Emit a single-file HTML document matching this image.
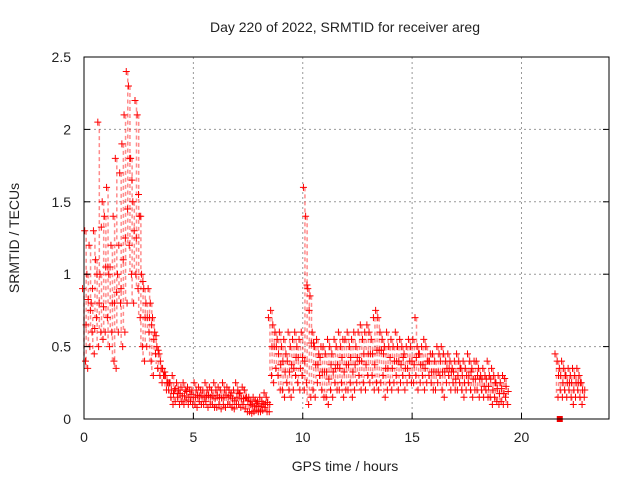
<!DOCTYPE html>
<html><head><meta charset="utf-8"><style>
body{margin:0;background:#fff}
svg{display:block;font-family:"Liberation Sans",sans-serif}
</style></head><body>
<svg id="chart" width="640" height="480" viewBox="0 0 640 480">
<rect width="640" height="480" fill="#fff"/>
<text x="345" y="32" font-size="14" text-anchor="middle" fill="#222">Day 220 of 2022, SRMTID for receiver areg</text>
<text x="345" y="471" font-size="14" text-anchor="middle" fill="#222">GPS time / hours</text>
<text x="0" y="0" transform="translate(19,238) rotate(-90)" font-size="14" text-anchor="middle" fill="#222">SRMTID / TECUs</text>
<g id="grid"></g><g id="marks"></g><g id="axes"></g>
</svg>
<script>
const xTicks=[0,5,10,15,20];
const yTicks=[0,0.5,1,1.5,2,2.5];
const yTickLabels=["0","0.5","1","1.5","2","2.5"];
const mainStart=0, step=0.1;
const valsHigh=[0.9,1.3,1.0,1.2,0.8,1.3,1.1,2.05,1.0,1.5,
1.4,1.6,1.0,1.2,1.4,1.8,1.0,1.7,1.9,2.1,
2.4,2.3,1.8,1.5,2.2,2.1,1.4,1.0,0.9,0.8,
0.9,0.8,0.7,0.6,0.5,0.45,0.35,0.3,0.3,0.25,
0.25,0.3,0.2,0.25,0.2,0.22,0.25,0.2,0.22,0.2,
0.2,0.25,0.2,0.22,0.2,0.2,0.25,0.2,0.22,0.2,
0.25,0.2,0.22,0.2,0.25,0.2,0.22,0.2,0.18,0.2,
0.25,0.2,0.18,0.22,0.2,0.15,0.15,0.12,0.15,0.13,
0.12,0.15,0.12,0.18,0.15,0.7,0.75,0.65,0.6,0.55,
0.6,0.5,0.55,0.45,0.6,0.5,0.55,0.6,0.5,0.55,
0.6,1.6,1.4,0.9,0.85,0.6,0.5,0.55,0.45,0.5,
0.5,0.45,0.55,0.5,0.45,0.55,0.5,0.6,0.5,0.55,
0.55,0.6,0.5,0.55,0.6,0.5,0.6,0.65,0.55,0.6,
0.65,0.6,0.55,0.7,0.75,0.7,0.6,0.55,0.5,0.6,
0.5,0.55,0.5,0.6,0.5,0.55,0.5,0.45,0.5,0.55,
0.5,0.55,0.7,0.5,0.45,0.5,0.55,0.5,0.4,0.45,
0.45,0.4,0.5,0.45,0.5,0.45,0.4,0.45,0.4,0.35,
0.4,0.45,0.4,0.35,0.4,0.35,0.45,0.4,0.35,0.4,
0.4,0.35,0.3,0.35,0.3,0.4,0.3,0.35,0.3,0.25,
0.3,0.25,0.3,0.28];
const valsLow=[0.4,0.35,0.5,0.6,0.45,0.7,0.5,0.6,0.55,0.6,
0.7,0.5,0.6,0.4,0.35,0.6,0.8,0.5,0.6,0.8,
1.2,1.0,0.8,1.0,0.9,0.7,0.5,0.4,0.5,0.6,
0.4,0.3,0.45,0.35,0.3,0.25,0.3,0.2,0.2,0.15,
0.1,0.12,0.15,0.1,0.12,0.1,0.13,0.1,0.12,0.1,
0.1,0.08,0.12,0.1,0.1,0.12,0.08,0.1,0.1,0.08,
0.08,0.1,0.07,0.1,0.08,0.1,0.1,0.08,0.07,0.1,
0.1,0.08,0.1,0.07,0.05,0.05,0.04,0.05,0.06,0.05,
0.05,0.06,0.08,0.05,0.05,0.3,0.25,0.35,0.3,0.2,
0.2,0.15,0.25,0.2,0.15,0.2,0.3,0.25,0.2,0.3,
0.2,0.25,0.1,0.15,0.2,0.15,0.25,0.3,0.2,0.15,
0.15,0.1,0.2,0.15,0.25,0.2,0.2,0.25,0.15,0.2,
0.2,0.25,0.15,0.2,0.25,0.3,0.2,0.25,0.2,0.3,
0.25,0.3,0.2,0.25,0.2,0.25,0.3,0.15,0.2,0.25,
0.2,0.25,0.3,0.2,0.25,0.3,0.2,0.25,0.3,0.25,
0.25,0.3,0.2,0.25,0.3,0.2,0.25,0.3,0.25,0.2,
0.2,0.25,0.3,0.2,0.15,0.25,0.3,0.2,0.25,0.2,
0.2,0.25,0.2,0.15,0.2,0.25,0.2,0.15,0.2,0.2,
0.15,0.2,0.15,0.2,0.15,0.15,0.1,0.15,0.12,0.1,
0.12,0.1,0.15,0.1];
const lateStart=21.6;
const lateHigh=[0.45,0.4,0.35,0.4,0.35,0.3,0.35,0.3,0.35,0.3,0.35,0.3,0.25];
const lateLow=[0.15,0.2,0.15,0.2,0.15,0.2,0.15,0.1,0.15,0.2,0.15,0.1,0.15];
const squareX=[21.75], squareY=[0];

const L=84,R=609,T=57,B=419,XMAX=24,YMAX=2.5;
const X=v=>L+v/XMAX*(R-L);
const Y=v=>B-v/YMAX*(B-T);
const NS="http://www.w3.org/2000/svg";
function mk(tag,attrs,parent){const e=document.createElementNS(NS,tag);for(const k in attrs)e.setAttribute(k,attrs[k]);parent.appendChild(e);return e;}
const grid=document.getElementById('grid'),marks=document.getElementById('marks'),axes=document.getElementById('axes');
xTicks.forEach(t=>{
  if(t>0){const g=mk('line',{x1:X(t),x2:X(t),y1:T,y2:B,stroke:'#999','stroke-dasharray':'2,3'},grid);
  
  }
  const tk=mk('line',{x1:X(t),x2:X(t),y1:B,y2:B-6,stroke:'#000'},axes);
  
  
  const lb=mk('text',{x:X(t),y:B+23,'font-size':14,'text-anchor':'middle',fill:'#222'},axes);lb.textContent=t;
  
  
});
yTicks.forEach((t,i)=>{
  if(t>0&&t<YMAX){const g=mk('line',{x1:L,x2:R,y1:Y(t),y2:Y(t),stroke:'#999','stroke-dasharray':'2,3'},grid);
  
  }
  const tk=mk('line',{x1:L,x2:L+6,y1:Y(t),y2:Y(t),stroke:'#000'},axes);
  
  
  const tk2=mk('line',{x1:R,x2:R-6,y1:Y(t),y2:Y(t),stroke:'#000'},axes);
  
  
  const lb=mk('text',{x:L-13,y:Y(t)+5,'font-size':14,'text-anchor':'end',fill:'#222'},axes);lb.textContent=yTickLabels[i];
  
  
});
const fr=mk('rect',{x:L,y:T,width:R-L,height:B-T,fill:'none',stroke:'#000'},axes);


function plus(x,y,c){const p=mk('path',{d:`M${x-3.5},${y}h7M${x},${y-3.5}v7`,stroke:c,'stroke-width':1},marks);
  
  }
function series(start,hi,lo){
  hi.forEach((h,i)=>{
    const t=start+i*step,x=X(t),l=lo[i];
    const bar=mk('line',{x1:x,x2:x,y1:Y(h),y2:Y(l),stroke:'#f00','stroke-width':1.5,opacity:0.45,'stroke-dasharray':'4,3'},marks);
    
    
    plus(x-1.5,Y(h),'#f00');plus(x+1.5,Y(l),'#f00');
    plus(x+2,Y((h+l)/2),'#f00');
  });
}
series(mainStart,valsHigh,valsLow);
series(lateStart,lateHigh,lateLow);
squareX.forEach((v,i)=>{const s=mk('rect',{x:X(v)-3,y:Y(squareY[i])-3,width:6,height:6,fill:'#e00'},marks);
  
  });
</script>
</body></html>
